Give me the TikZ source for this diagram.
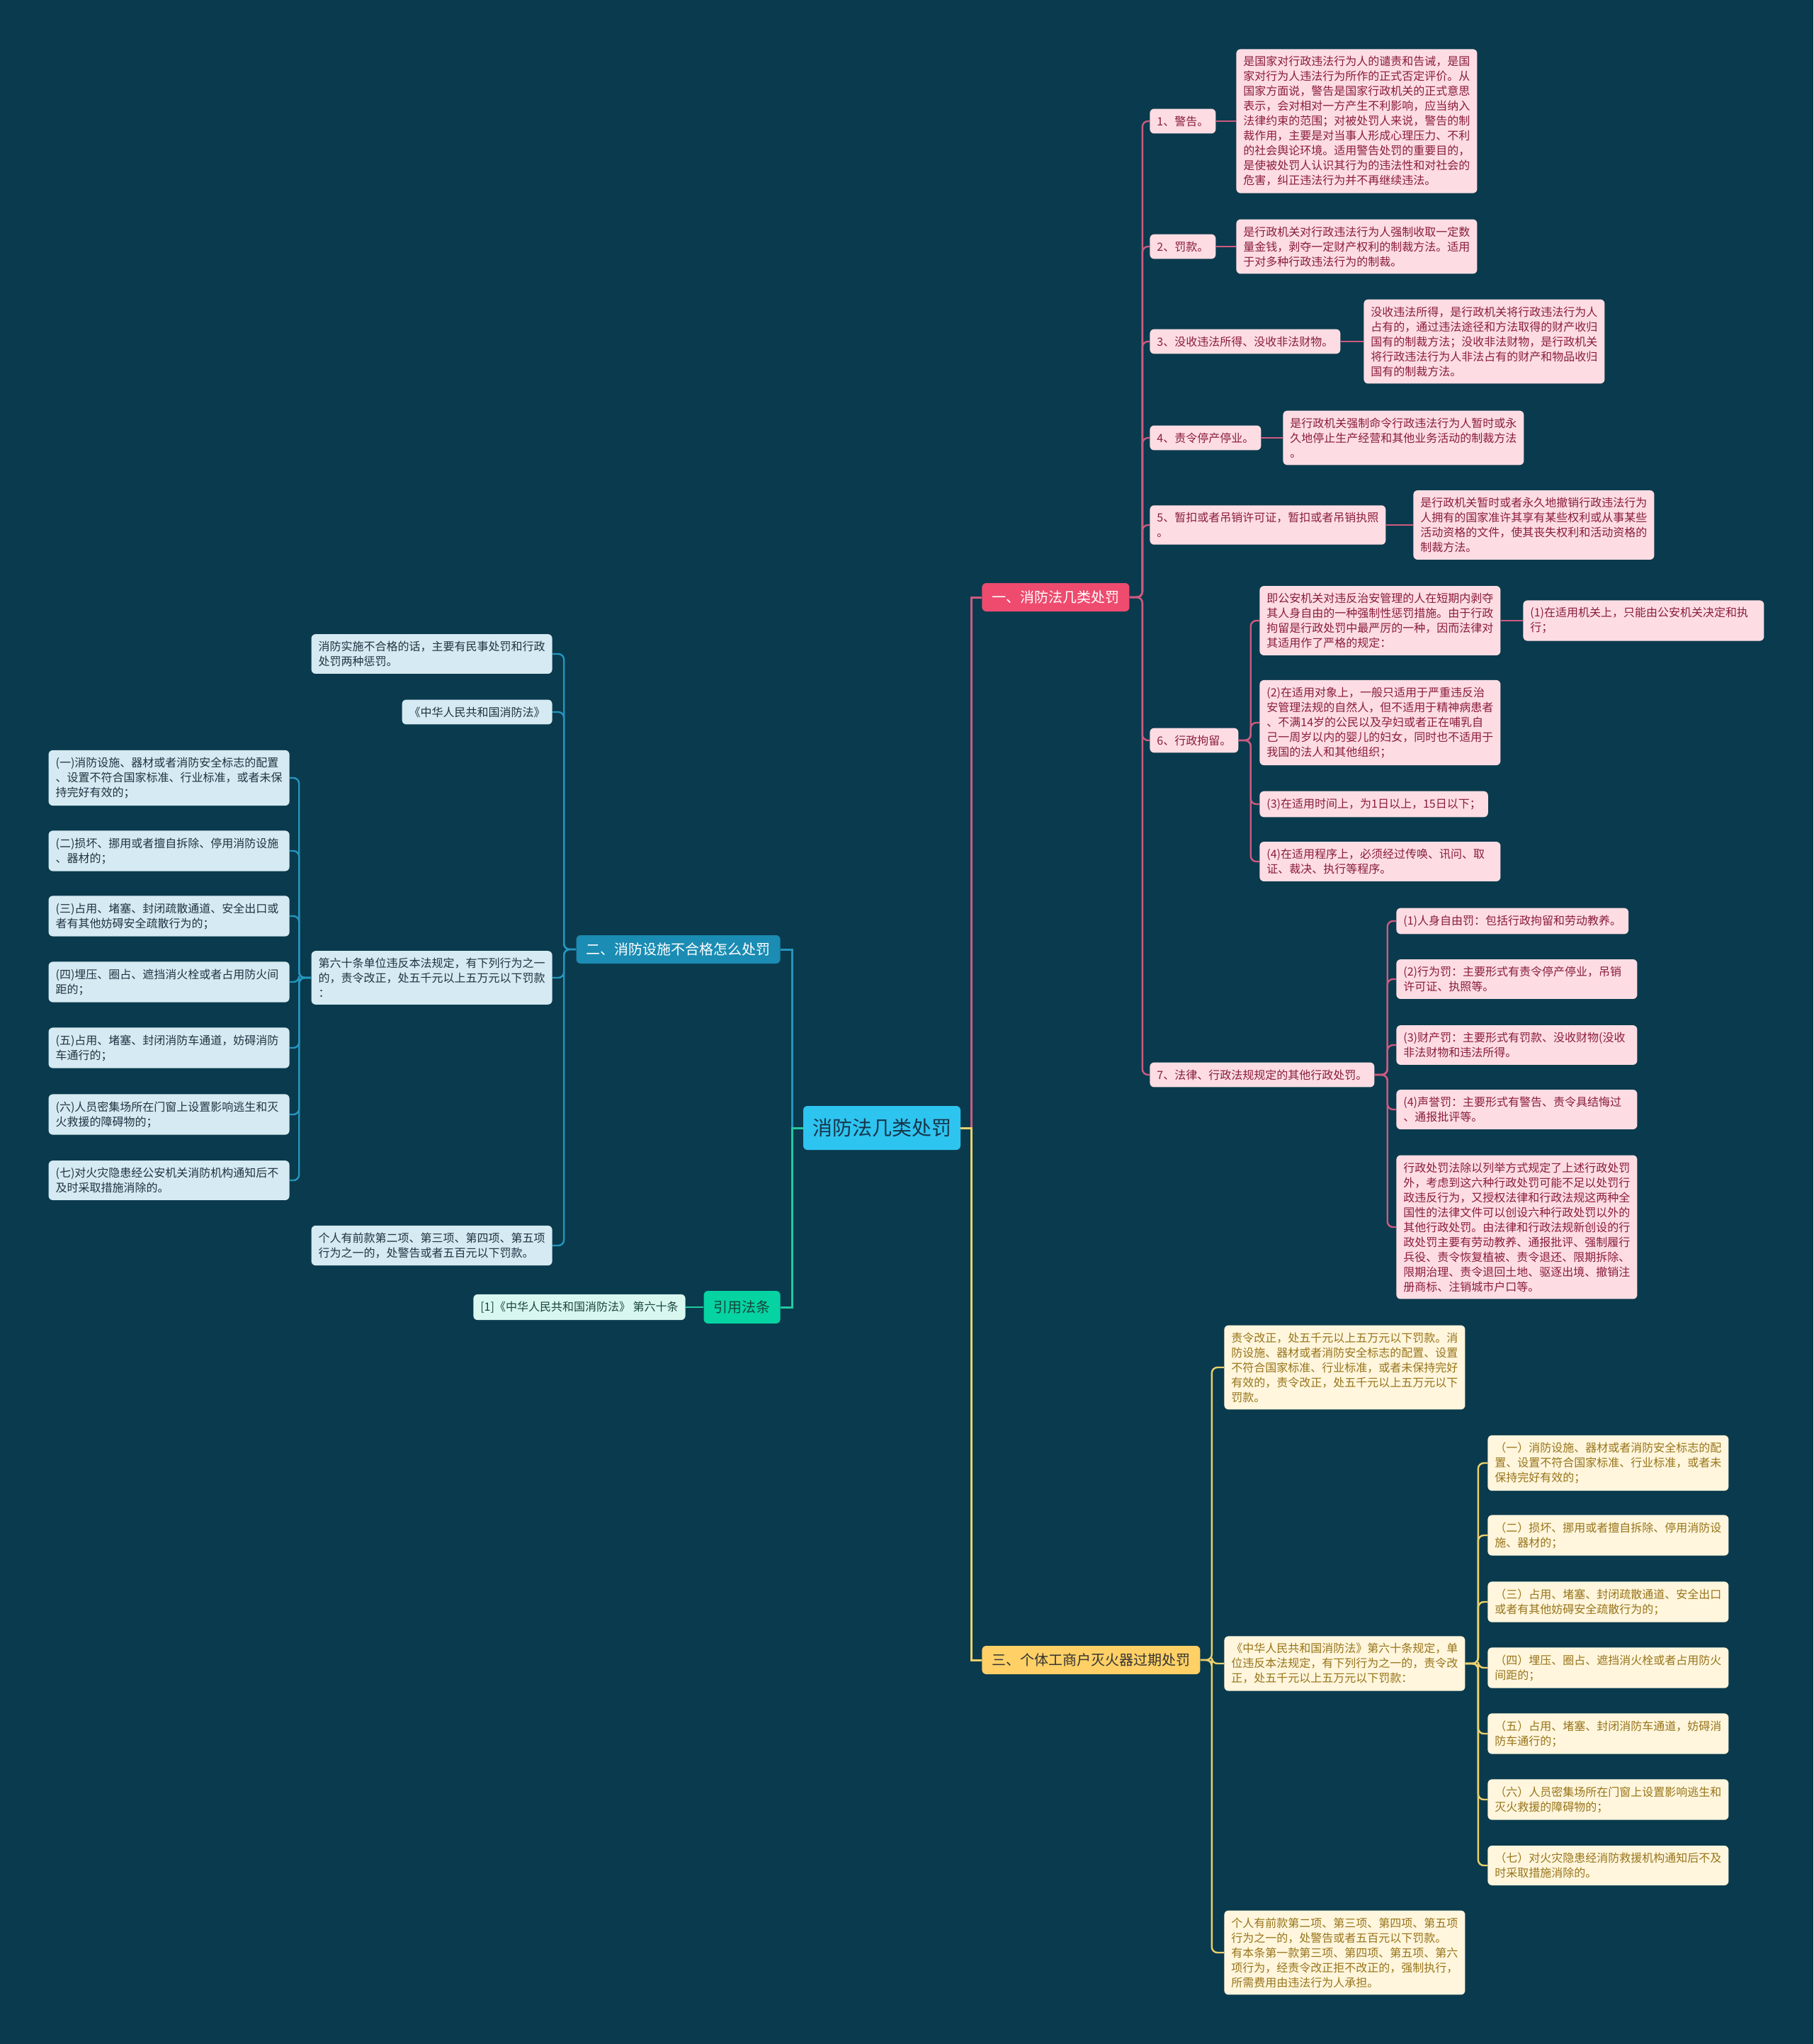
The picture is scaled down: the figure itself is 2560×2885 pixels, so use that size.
\documentclass[tikz,border=0pt]{standalone}
\usepackage{fontspec}
\setmainfont{Noto Sans CJK SC}
\usepackage{xcolor}
\definecolor{mapBg}{HTML}{0A3A4D}
\definecolor{rootBlue}{HTML}{2EC4F0}
\definecolor{rootText}{HTML}{16354A}
\definecolor{redMain}{HTML}{EE4B6F}
\definecolor{redLine}{HTML}{CE5A80}
\definecolor{redLeaf}{HTML}{FDDDE3}
\definecolor{redText}{HTML}{8A1C3E}
\definecolor{blueMain}{HTML}{1B8CB3}
\definecolor{blueLine}{HTML}{2596BE}
\definecolor{blueLeaf}{HTML}{D5EAF2}
\definecolor{blueText}{HTML}{1E3442}
\definecolor{tealMain}{HTML}{06D3A2}
\definecolor{tealLine}{HTML}{22C9A0}
\definecolor{tealLeaf}{HTML}{D8F7EF}
\definecolor{tealText}{HTML}{17453B}
\definecolor{goldMain}{HTML}{FFD066}
\definecolor{goldLine}{HTML}{EBD06C}
\definecolor{goldLeaf}{HTML}{FFF6DD}
\definecolor{goldText}{HTML}{98741A}
\usepackage{tikz}

\begin{document}
\begin{tikzpicture}[
		x=0.5pt, y=-0.5pt,
		box/.style={
			rounded corners=3pt,
			align=left,
			inner xsep=5pt,
			inner ysep=5pt,
			font=\fontsize{8}{10.5}\selectfont
		},
		wide/.style={text width=160pt},
		redbox/.style={box, fill=redLeaf, text=redText},
		bluebox/.style={box, fill=blueLeaf, text=blueText},
		tealbox/.style={box, fill=tealLeaf, text=tealText},
		goldbox/.style={box, fill=goldLeaf, text=goldText},
		mainbox/.style={
			rounded corners=3pt,
			inner xsep=7pt,
			minimum height=20pt,
			font=\fontsize{10}{12}\selectfont
		},
		rootbox/.style={
			rounded corners=3pt,
			fill=rootBlue,
			text=rootText,
			minimum width=111pt,
			minimum height=31pt,
			font=\fontsize{14}{16}\selectfont
		},
		link/.style={line width=1.2pt, rounded corners=4pt},
		rootlink/.style={line width=1.5pt}
		]
		
		\fill[mapBg] (0,0) rectangle (2560,2885);
		\useasboundingbox (0,0) rectangle (2560,2885);
		
		% centre and main branches
		\node[rootbox] (root) at (1245,1592) {消防法几类处罚};
		\node[mainbox, fill=redMain, text=white, anchor=west] (pen) at (1386,843) {一、消防法几类处罚};
		\node[mainbox, fill=blueMain, text=white, anchor=east] (fail) at (1102,1340) {二、消防设施不合格怎么处罚};
		\node[mainbox, fill=tealMain, text=tealText, anchor=east, minimum height=23pt] (cite) at (1102,1845) {引用法条};
		\node[mainbox, fill=goldMain, text=black!80, anchor=west] (shop) at (1386,2343) {三、个体工商户灭火器过期处罚};
		
		% branch one
		\node[redbox, anchor=west] (pen1) at (1623,171) {1、警告。};
		\node[redbox, wide, anchor=west] (penD1) at (1745,171) {是国家对行政违法行为人的谴责和告诫，是国\\家对行为人违法行为所作的正式否定评价。从\\国家方面说，警告是国家行政机关的正式意思\\表示，会对相对一方产生不利影响，应当纳入\\法律约束的范围；对被处罚人来说，警告的制\\裁作用，主要是对当事人形成心理压力、不利\\的社会舆论环境。适用警告处罚的重要目的，\\是使被处罚人认识其行为的违法性和对社会的\\危害，纠正违法行为并不再继续违法。};
		\node[redbox, anchor=west] (pen2) at (1623,348) {2、罚款。};
		\node[redbox, wide, anchor=west] (penD2) at (1745,348) {是行政机关对行政违法行为人强制收取一定数\\量金钱，剥夺一定财产权利的制裁方法。适用\\于对多种行政违法行为的制裁。};
		\node[redbox, anchor=west] (pen3) at (1623,482) {3、没收违法所得、没收非法财物。};
		\node[redbox, wide, anchor=west] (penD3) at (1925,482) {没收违法所得，是行政机关将行政违法行为人\\占有的，通过违法途径和方法取得的财产收归\\国有的制裁方法；没收非法财物，是行政机关\\将行政违法行为人非法占有的财产和物品收归\\国有的制裁方法。};
		\node[redbox, anchor=west] (pen4) at (1623,618) {4、责令停产停业。};
		\node[redbox, wide, anchor=west] (penD4) at (1811,618) {是行政机关强制命令行政违法行为人暂时或永\\久地停止生产经营和其他业务活动的制裁方法\\。};
		\node[redbox, anchor=west] (pen5) at (1623,741) {5、暂扣或者吊销许可证，暂扣或者吊销执照\\。};
		\node[redbox, wide, anchor=west] (penD5) at (1995,741) {是行政机关暂时或者永久地撤销行政违法行为\\人拥有的国家准许其享有某些权利或从事某些\\活动资格的文件，使其丧失权利和活动资格的\\制裁方法。};
		\node[redbox, anchor=west] (pen6) at (1623,1045) {6、行政拘留。};
		\node[redbox, wide, anchor=west] (det1) at (1778,876) {即公安机关对违反治安管理的人在短期内剥夺\\其人身自由的一种强制性惩罚措施。由于行政\\拘留是行政处罚中最严厉的一种，因而法律对\\其适用作了严格的规定：};
		\node[redbox, wide, anchor=west] (det1a) at (2150,876) {(1)在适用机关上，只能由公安机关决定和执\\行；};
		\node[redbox, wide, anchor=west] (det2) at (1778,1020) {(2)在适用对象上，一般只适用于严重违反治\\安管理法规的自然人，但不适用于精神病患者\\、不满14岁的公民以及孕妇或者正在哺乳自\\己一周岁以内的婴儿的妇女，同时也不适用于\\我国的法人和其他组织；};
		\node[redbox, anchor=west] (det3) at (1778,1135) {(3)在适用时间上，为1日以上，15日以下；};
		\node[redbox, wide, anchor=west] (det4) at (1778,1216) {(4)在适用程序上，必须经过传唤、讯问、取\\证、裁决、执行等程序。};
		\node[redbox, anchor=west] (pen7) at (1623,1517) {7、法律、行政法规规定的其他行政处罚。};
		\node[redbox, anchor=west] (oth1) at (1971,1300) {(1)人身自由罚：包括行政拘留和劳动教养。};
		\node[redbox, wide, anchor=west] (oth2) at (1971,1382) {(2)行为罚：主要形式有责令停产停业，吊销\\许可证、执照等。};
		\node[redbox, wide, anchor=west] (oth3) at (1971,1475) {(3)财产罚：主要形式有罚款、没收财物(没收\\非法财物和违法所得。};
		\node[redbox, wide, anchor=west] (oth4) at (1971,1566) {(4)声誉罚：主要形式有警告、责令具结悔过\\、通报批评等。};
		\node[redbox, wide, anchor=west] (oth5) at (1971,1732) {行政处罚法除以列举方式规定了上述行政处罚\\外，考虑到这六种行政处罚可能不足以处罚行\\政违反行为，又授权法律和行政法规这两种全\\国性的法律文件可以创设六种行政处罚以外的\\其他行政处罚。由法律和行政法规新创设的行\\政处罚主要有劳动教养、通报批评、强制履行\\兵役、责令恢复植被、责令退还、限期拆除、\\限期治理、责令退回土地、驱逐出境、撤销注\\册商标、注销城市户口等。};
		
		% branch two
		\node[bluebox, wide, anchor=east] (failA) at (780,923) {消防实施不合格的话，主要有民事处罚和行政\\处罚两种惩罚。};
		\node[bluebox, anchor=east] (failB) at (780,1005) {《中华人民共和国消防法》};
		\node[bluebox, wide, anchor=east] (failC) at (780,1380) {第六十条单位违反本法规定，有下列行为之一\\的，责令改正，处五千元以上五万元以下罚款\\：};
		\node[bluebox, wide, anchor=east] (failD) at (780,1758) {个人有前款第二项、第三项、第四项、第五项\\行为之一的，处警告或者五百元以下罚款。};
		\node[bluebox, wide, anchor=east] (art1) at (409,1098) {(一)消防设施、器材或者消防安全标志的配置\\、设置不符合国家标准、行业标准，或者未保\\持完好有效的；};
		\node[bluebox, wide, anchor=east] (art2) at (409,1201) {(二)损坏、挪用或者擅自拆除、停用消防设施\\、器材的；};
		\node[bluebox, wide, anchor=east] (art3) at (409,1293) {(三)占用、堵塞、封闭疏散通道、安全出口或\\者有其他妨碍安全疏散行为的；};
		\node[bluebox, wide, anchor=east] (art4) at (409,1386) {(四)埋压、圈占、遮挡消火栓或者占用防火间\\距的；};
		\node[bluebox, wide, anchor=east] (art5) at (409,1479) {(五)占用、堵塞、封闭消防车通道，妨碍消防\\车通行的；};
		\node[bluebox, wide, anchor=east] (art6) at (409,1573) {(六)人员密集场所在门窗上设置影响逃生和灭\\火救援的障碍物的；};
		\node[bluebox, wide, anchor=east] (art7) at (409,1666) {(七)对火灾隐患经公安机关消防机构通知后不\\及时采取措施消除的。};
		
		% citation
		\node[tealbox, anchor=east] (citeA) at (968,1845) {[1]《中华人民共和国消防法》 第六十条};
		
		% branch three
		\node[goldbox, wide, anchor=west] (shopA) at (1728,1930) {责令改正，处五千元以上五万元以下罚款。消\\防设施、器材或者消防安全标志的配置、设置\\不符合国家标准、行业标准，或者未保持完好\\有效的，责令改正，处五千元以上五万元以下\\罚款。};
		\node[goldbox, wide, anchor=west] (shopB) at (1728,2348) {《中华人民共和国消防法》第六十条规定，单\\位违反本法规定，有下列行为之一的，责令改\\正，处五千元以上五万元以下罚款：};
		\node[goldbox, wide, anchor=west] (shopC) at (1728,2756) {个人有前款第二项、第三项、第四项、第五项\\行为之一的，处警告或者五百元以下罚款。\\有本条第一款第三项、第四项、第五项、第六\\项行为，经责令改正拒不改正的，强制执行，\\所需费用由违法行为人承担。};
		\node[goldbox, wide, anchor=west] (item1) at (2100,2065) {（一）消防设施、器材或者消防安全标志的配\\置、设置不符合国家标准、行业标准，或者未\\保持完好有效的；};
		\node[goldbox, wide, anchor=west] (item2) at (2100,2167) {（二）损坏、挪用或者擅自拆除、停用消防设\\施、器材的；};
		\node[goldbox, wide, anchor=west] (item3) at (2100,2261) {（三）占用、堵塞、封闭疏散通道、安全出口\\或者有其他妨碍安全疏散行为的；};
		\node[goldbox, wide, anchor=west] (item4) at (2100,2354) {（四）埋压、圈占、遮挡消火栓或者占用防火\\间距的；};
		\node[goldbox, wide, anchor=west] (item5) at (2100,2447) {（五）占用、堵塞、封闭消防车通道，妨碍消\\防车通行的；};
		\node[goldbox, wide, anchor=west] (item6) at (2100,2540) {（六）人员密集场所在门窗上设置影响逃生和\\灭火救援的障碍物的；};
		\node[goldbox, wide, anchor=west] (item7) at (2100,2633) {（七）对火灾隐患经消防救援机构通知后不及\\时采取措施消除的。};
		
		% connectors
		\draw[rootlink, redLine] (root.east) -- ++(15,0) |- (pen.west);
		\draw[rootlink, goldLine] (root.east) -- ++(15,0) |- (shop.west);
		\draw[rootlink, blueLine] (root.west) -- ++(-15,0) |- (fail.east);
		\draw[rootlink, tealLine] (root.west) -- ++(-15,0) |- (cite.east);
		
		\draw[link, redLine] (pen.east) -- ++(18,0) |- (pen1.west);
		\draw[link, redLine] (pen.east) -- ++(18,0) |- (pen2.west);
		\draw[link, redLine] (pen.east) -- ++(18,0) |- (pen3.west);
		\draw[link, redLine] (pen.east) -- ++(18,0) |- (pen4.west);
		\draw[link, redLine] (pen.east) -- ++(18,0) |- (pen5.west);
		\draw[link, redLine] (pen.east) -- ++(18,0) |- (pen6.west);
		\draw[link, redLine] (pen.east) -- ++(18,0) |- (pen7.west);
		\draw[link, redLine] (pen1) -- (penD1);
		\draw[link, redLine] (pen2) -- (penD2);
		\draw[link, redLine] (pen3) -- (penD3);
		\draw[link, redLine] (pen4) -- (penD4);
		\draw[link, redLine] (pen5) -- (penD5);
		\draw[link, redLine] (pen6.east) -- ++(17,0) |- (det1.west);
		\draw[link, redLine] (pen6.east) -- ++(17,0) |- (det2.west);
		\draw[link, redLine] (pen6.east) -- ++(17,0) |- (det3.west);
		\draw[link, redLine] (pen6.east) -- ++(17,0) |- (det4.west);
		\draw[link, redLine] (det1) -- (det1a);
		\draw[link, redLine] (pen7.east) -- ++(18,0) |- (oth1.west);
		\draw[link, redLine] (pen7.east) -- ++(18,0) |- (oth2.west);
		\draw[link, redLine] (pen7.east) -- ++(18,0) |- (oth3.west);
		\draw[link, redLine] (pen7.east) -- ++(18,0) |- (oth4.west);
		\draw[link, redLine] (pen7.east) -- ++(18,0) |- (oth5.west);
		
		\draw[link, blueLine] (fail.west) -- ++(-17,0) |- (failA.east);
		\draw[link, blueLine] (fail.west) -- ++(-17,0) |- (failB.east);
		\draw[link, blueLine] (fail.west) -- ++(-17,0) |- (failC.east);
		\draw[link, blueLine] (fail.west) -- ++(-17,0) |- (failD.east);
		\draw[link, blueLine] (failC.west) -- ++(-17,0) |- (art1.east);
		\draw[link, blueLine] (failC.west) -- ++(-17,0) |- (art2.east);
		\draw[link, blueLine] (failC.west) -- ++(-17,0) |- (art3.east);
		\draw[link, blueLine] (failC.west) -- ++(-17,0) |- (art4.east);
		\draw[link, blueLine] (failC.west) -- ++(-17,0) |- (art5.east);
		\draw[link, blueLine] (failC.west) -- ++(-17,0) |- (art6.east);
		\draw[link, blueLine] (failC.west) -- ++(-17,0) |- (art7.east);
		
		\draw[link, tealLine] (cite) -- (citeA);
		
		\draw[link, goldLine] (shop.east) -- ++(16,0) |- (shopA.west);
		\draw[link, goldLine] (shop.east) -- ++(16,0) |- (shopB.west);
		\draw[link, goldLine] (shop.east) -- ++(16,0) |- (shopC.west);
		\draw[link, goldLine] (shopB.east) -- ++(18,0) |- (item1.west);
		\draw[link, goldLine] (shopB.east) -- ++(18,0) |- (item2.west);
		\draw[link, goldLine] (shopB.east) -- ++(18,0) |- (item3.west);
		\draw[link, goldLine] (shopB.east) -- ++(18,0) |- (item4.west);
		\draw[link, goldLine] (shopB.east) -- ++(18,0) |- (item5.west);
		\draw[link, goldLine] (shopB.east) -- ++(18,0) |- (item6.west);
		\draw[link, goldLine] (shopB.east) -- ++(18,0) |- (item7.west);
		
	\end{tikzpicture}
\end{document}
